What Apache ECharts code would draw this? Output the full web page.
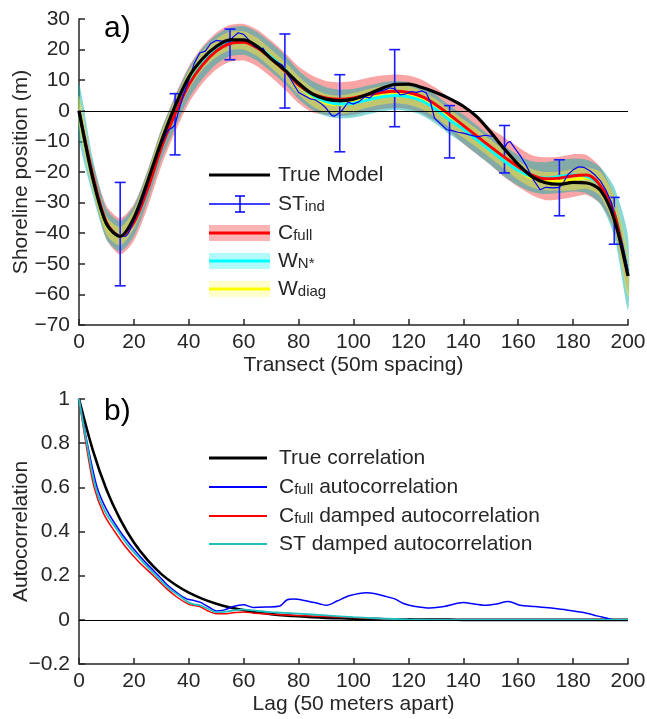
<!DOCTYPE html>
<html><head><meta charset="utf-8">
<script src="https://cdn.jsdelivr.net/npm/echarts@6/dist/echarts.min.js"></script>
<style>html,body{margin:0;padding:0;background:#fff}#c{width:647px;height:719px}</style>
</head><body><div id="c"></div>
<script>
// ---------- Panel a) data ----------
const transectX = [0,5,10,15,20,25,30,35,40,45,50,55,60,65,70,75,80,85,90,95,100,105,110,115,120,125,130,135,140,145,150,155,160,165,170,175,180,185,190,195,200];
const trueModel = [0,-22,-37,-41,-35,-23,-10,1.5,11,17,21,23.2,23.2,21,17,13.3,9,5.5,3.8,3.3,3.8,5.3,7.2,8.6,8.7,7.6,6,4,1.5,-2,-7,-12.5,-17.5,-21.5,-23.5,-24,-23.4,-23.6,-26,-35.5,-54];
const cFull = [0,-21,-36.5,-41,-36.5,-25.5,-12,-1,8.5,15,19.5,22,22.4,20.5,17,13,8.5,5.5,4.2,3.8,4.2,5.2,6,6.4,6,4.6,2,-1.3,-4.8,-8.3,-11.8,-15.2,-18.3,-21,-22.2,-22,-21.2,-21,-24.5,-33.5,-54];
const wNstar = [0,-21.5,-37,-41,-36,-24.5,-11,-0.5,9,15.5,20,22.5,23,21,17.5,13.5,8.5,5,3,2.2,2.5,3.5,4.5,5,4.6,3.2,0.5,-3,-6,-9.5,-13,-16.5,-19.5,-21.5,-22,-21.5,-21,-21.5,-24.5,-33,-53];
const wDiag = [0,-22,-37.5,-41,-35.5,-23.5,-10,0.5,10,16.5,20.5,22.8,23,20.8,17,13,8.3,4.5,2.5,2,2.8,4,5,5.5,5,3.5,0.8,-2.5,-5.8,-9,-12.5,-16,-19.5,-22,-23,-23,-22.5,-22,-24,-33,-54];
const cFullHalfWidth = [1.5,4,5.5,6,6,6,6,6,6,6,6,6,6,6,6,6,6,6,5.5,5.5,5.5,5.5,5.5,5.5,5.5,5.5,5.5,5.5,6,6,6,6.5,6.5,6.5,7,7,7,6.5,6,5.5,5];
const wNstarHalfWidth = [9,6,5,5,5,5,5,5,5,5,4.8,4.7,4.7,4.7,4.7,4.7,4.7,4.7,4.7,4.7,4.7,4.7,4.7,4.7,4.7,4.7,4.7,4.7,4.7,4.7,4.7,5,5,5,5.2,5.4,5.4,5.5,6,8,12];
const wDiagHalfWidth = [5,3.5,3,3,3,3,3,3,3,3,3,3,3,3,3,3,3,3,3,3,3,3,3,3,3,3,3,3,3,3,3,3,3,3,3,3.2,3.5,3.5,4,5,7];
const stX = [0,2,4,6,8,10,12,13,15,17,18,20,22,24,26,28,30,32,33,34,35,36,38,40,42,44,46,48,50,52,54,55,56,58,60,62,64,66,67,68,70,72,74,76,78,80,82,84,86,88,90,92,93,94,96,98,100,102,104,106,108,110,112,113,115,117,119,121,123,125,126.5,128,129.5,132,134,136,138,140,142,145,148,151,153,154.6,156,157,159,161,163,165.5,168,170,172.8,175,176.4,178,180,182,184,186,188,190,192,194,195,196,198,200];
const stInd = [0,-9,-18,-26,-32,-36.5,-39.5,-40.5,-41,-41,-40,-36,-32,-27,-21,-16,-11,-7,-6,-5.5,-4.5,-1,5,10,15.5,18.9,19.5,22,23,22.8,22.5,22.5,24,25.5,25,23,21,20,20.5,19,17,16,15,12,9,6,5,4,3.6,2.5,0.9,-1.5,-1.8,-1.2,0.3,2.8,2.2,3,4.5,4.2,6,6.5,7,7.5,7.2,5.2,5.5,6.3,6,6.5,5.8,3,-2.4,-4.5,-6.2,-6.5,-7,-7.3,-7.8,-8.5,-8,-8.4,-10,-12.7,-10.5,-10,-12.5,-15,-18,-22.5,-25.8,-25,-25.2,-25,-23.6,-21,-19.3,-18.3,-18.5,-19.5,-21,-23,-26,-30,-35,-38,-44,-52];
const errX = [15,35,55,75,95,115,135,155,175,195];
const errLow = [-57.2,-14.4,16.7,0.9,-13.4,-5.2,-15.4,-20.3,-34.3,-43.6];
const errHigh = [-23.4,5.6,26.7,25.1,11.8,20,1.7,-4.8,-16,-28.3];
const xTicksA = [0,20,40,60,80,100,120,140,160,180,200];
const yTicksA = [-70,-60,-50,-40,-30,-20,-10,0,10,20,30];

// ---------- Panel b) data ----------
const lagX = [0,5,10,15,20,25,30,35,40,45,50,55,60,65,70,75,80,85,90,95,100,105,110,115,120,125,130,135,140,145,150,155,160,165,170,175,180,185,190,195,200];
const trueCorr = [1,0.77,0.59,0.455,0.35,0.27,0.207,0.16,0.123,0.095,0.073,0.056,0.044,0.034,0.026,0.02,0.016,0.012,0.009,0.007,0.005,0.004,0.003,0.002,0.002,0.001,0.001,0.001,0,0,0,0,0,0,0,0,0,0,0,0,0];
const cFullAcX = [0,3,6.6,10,15,20,25,29,32,36,39.2,42,44.1,47,50.2,53,56.2,59.9,63.5,68,73.2,75.7,78.2,82,87.8,90.2,94,98.7,104.8,108,112,115,118.2,122,127.9,133,140,144,148.5,152,156.4,160.7,166,172.8,177.6,181.3,185,188.6,192,194.7,200];
const cFullAc = [1,0.8,0.6,0.5,0.4,0.32,0.25,0.2,0.16,0.12,0.095,0.087,0.08,0.06,0.04,0.045,0.06,0.068,0.056,0.058,0.063,0.09,0.094,0.088,0.072,0.066,0.085,0.11,0.123,0.118,0.105,0.095,0.074,0.062,0.054,0.06,0.078,0.072,0.066,0.072,0.083,0.066,0.06,0.053,0.045,0.038,0.03,0.018,0.008,0,0];
const cFullDampX = [0,2.5,5.5,9,13,17,22,27.1,32,36,40,42,44,47,50,53,56,60,64,70,80,90,100,110,120,200];
const cFullDamp = [1,0.8,0.6,0.48,0.4,0.33,0.26,0.2,0.14,0.1,0.07,0.065,0.06,0.04,0.028,0.028,0.032,0.036,0.03,0.025,0.02,0.015,0.01,0.005,0.001,0];
const stDampX = [0,2.8,6,9.5,14.3,18,23,28,33,37,40,42,44,47,50,53,56,60,65,70,80,90,100,110,120,130,200];
const stDamp = [1,0.8,0.6,0.49,0.4,0.335,0.265,0.2,0.14,0.105,0.078,0.07,0.066,0.05,0.035,0.036,0.042,0.046,0.04,0.035,0.028,0.02,0.012,0.006,0.002,0,0];

// ---------- chart ----------
const FONT = 'Liberation Sans, Arial, Helvetica, sans-serif';
const TXT = '#262626';
const pairs = (xs, ys) => xs.map((x, i) => [x, ys[i]]);
const fmtMinus = v => String(Math.round(v * 100) / 100).replace('-', '\u2212');

function axisCommon(margin, gap, name, gridIndex) {
  return {
    gridIndex: gridIndex, type: 'value', name: name, nameGap: gap, nameLocation: 'middle', nameMoveOverlap: false,
    axisLine: {show: true, onZero: false, lineStyle: {color: TXT, width: 1.5}},
    axisTick: {show: true, inside: true, length: 6, lineStyle: {color: TXT, width: 1.5}},
    splitLine: {show: false},
    axisLabel: {color: TXT, fontSize: 21, fontFamily: FONT, formatter: fmtMinus, margin: margin, hideOverlap: false},
    nameTextStyle: {color: TXT, fontSize: 21, fontFamily: FONT}
  };
}
function bandSeries(center, hw, color) {
  return {
    type: 'custom', xAxisIndex: 0, yAxisIndex: 0, silent: true,
    data: [[0, 0]],
    renderItem: function (params, api) {
      const pts = [];
      for (let i = 0; i < transectX.length; i++) pts.push(api.coord([transectX[i], center[i] + hw[i]]));
      for (let i = transectX.length - 1; i >= 0; i--) pts.push(api.coord([transectX[i], center[i] - hw[i]]));
      return {type: 'polygon', shape: {points: pts, smooth: 0.25}, style: {fill: color}};
    }
  };
}
function lineSeries(xi, xs, ys, color, width, smooth) {
  return {
    type: 'line', xAxisIndex: xi, yAxisIndex: xi, data: pairs(xs, ys), showSymbol: false, symbol: 'none',
    smooth: smooth, silent: true, lineStyle: {color: color, width: width}, animation: false
  };
}
function zeroLine(xi) {
  return {
    type: 'line', xAxisIndex: xi, yAxisIndex: xi, data: [], silent: true,
    markLine: {silent: true, symbol: 'none', label: {show: false}, animation: false,
      lineStyle: {color: '#000', width: 1, type: 'solid'}, data: [{yAxis: 0}]}
  };
}

const legendA = [];
const LX1 = 209, LX2 = 270, TX = 278;
const rowsA = [175, 204, 233, 261, 289];
legendA.push({type: 'line', shape: {x1: LX1, y1: rowsA[0], x2: LX2, y2: rowsA[0]}, style: {stroke: '#000', lineWidth: 3.2}});
legendA.push({type: 'line', shape: {x1: LX1, y1: rowsA[1], x2: LX2, y2: rowsA[1]}, style: {stroke: '#0000ff', lineWidth: 1.5}});
legendA.push({type: 'line', shape: {x1: 240, y1: rowsA[1] - 8, x2: 240, y2: rowsA[1] + 8}, style: {stroke: '#0000ff', lineWidth: 1.5}});
legendA.push({type: 'line', shape: {x1: 235, y1: rowsA[1] - 8, x2: 245, y2: rowsA[1] - 8}, style: {stroke: '#0000ff', lineWidth: 1.5}});
legendA.push({type: 'line', shape: {x1: 235, y1: rowsA[1] + 8, x2: 245, y2: rowsA[1] + 8}, style: {stroke: '#0000ff', lineWidth: 1.5}});
const bandLeg = [['#fbb3b3', '#ff0000'], ['#b0fafa', '#00ffff'], ['#ffffcc', '#ffff00']];
for (let k = 0; k < 3; k++) {
  const y = rowsA[k + 2];
  legendA.push({type: 'rect', shape: {x: LX1, y: y - 8, width: LX2 - LX1, height: 16}, style: {fill: bandLeg[k][0]}});
  legendA.push({type: 'line', shape: {x1: LX1, y1: y, x2: LX2, y2: y}, style: {stroke: bandLeg[k][1], lineWidth: 3}});
}
const richSub = {m: {fontSize: 21, fontFamily: FONT, color: TXT}, s: {fontSize: 15, fontFamily: FONT, color: TXT, verticalAlign: 'bottom'}};
const legTextsA = ['{m|True Model}', '{m|ST}{s|ind}', '{m|C}{s|full}', '{m|W}{s|N*}', '{m|W}{s|diag}'];
legTextsA.forEach((t, i) => legendA.push({type: 'text', x: TX, y: rowsA[i], style: {text: t, rich: richSub, verticalAlign: 'middle', align: 'left', fill: TXT}}));

const rowsB = [458, 487, 516, 544];
const legB = [['#000', 2.8, '{m|True correlation}'], ['#0000ff', 1.8, '{m|C}{s|full}{m| autocorrelation}'], ['#ff0000', 1.8, '{m|C}{s|full}{m| damped autocorrelation}'], ['#1fbfbf', 2.2, '{m|ST damped autocorrelation}']];
const legendB = [];
legB.forEach((l, i) => {
  legendB.push({type: 'line', shape: {x1: LX1, y1: rowsB[i], x2: 267, y2: rowsB[i]}, style: {stroke: l[0], lineWidth: l[1]}});
  legendB.push({type: 'text', x: 279, y: rowsB[i], style: {text: l[2], rich: richSub, verticalAlign: 'middle', align: 'left', fill: TXT}});
});

const chart = echarts.init(document.getElementById('c'), null, {renderer: 'canvas'});
chart.setOption({
  animation: false,
  backgroundColor: '#fff',
  textStyle: {fontFamily: FONT},
  grid: [
    {left: 79, top: 19, width: 549, height: 306, containLabel: false, outerBoundsMode: 'none'},
    {left: 79, top: 399, width: 549, height: 265, containLabel: false, outerBoundsMode: 'none'}
  ],
  xAxis: [
    Object.assign(axisCommon(7, 30, 'Transect (50m spacing)', 0), {min: xTicksA[0], max: xTicksA[xTicksA.length - 1], interval: 20}),
    Object.assign(axisCommon(7, 30, 'Lag (50 meters apart)', 1), {min: 0, max: 200, interval: 20})
  ],
  yAxis: [
    Object.assign(axisCommon(9, 47, 'Shoreline position (m)', 0), {min: yTicksA[0], max: yTicksA[yTicksA.length - 1], interval: 10}),
    Object.assign(axisCommon(9, 47, 'Autocorrelation', 1), {min: -0.2, max: 1, interval: 0.2})
  ],
  graphic: [
    {type: 'text', x: 104, y: 14, style: {text: 'a)', fontSize: 30, fontFamily: FONT, fill: '#000'}},
    {type: 'text', x: 104, y: 397, style: {text: 'b)', fontSize: 30, fontFamily: FONT, fill: '#000'}},
    {type: 'group', children: legendA},
    {type: 'group', children: legendB}
  ],
  series: [
    zeroLine(0),
    bandSeries(cFull, cFullHalfWidth, '#faa5a5'),
    bandSeries(wNstar, wNstarHalfWidth, 'rgba(14,175,171,0.5)'),
    bandSeries(wDiag, wDiagHalfWidth, 'rgba(245,222,60,0.55)'),
    lineSeries(0, transectX, wDiag, '#ffff00', 3, 0.3),
    lineSeries(0, transectX, wNstar, '#00ffff', 3, 0.3),
    lineSeries(0, transectX, cFull, '#ff0000', 3, 0.3),
    lineSeries(0, stX, stInd, '#0000ff', 1.2, false),
    {
      type: 'custom', xAxisIndex: 0, yAxisIndex: 0, silent: true,
      data: errX.map((x, i) => [x, errLow[i], errHigh[i]]),
      encode: {x: 0, y: [1, 2]},
      renderItem: function (params, api) {
        const x = api.value(0);
        const lo = api.coord([x, api.value(1)]);
        const hi = api.coord([x, api.value(2)]);
        const w = 5.5, st = {stroke: '#1a1aff', lineWidth: 1.6};
        return {type: 'group', children: [
          {type: 'line', shape: {x1: lo[0], y1: lo[1], x2: hi[0], y2: hi[1]}, style: st},
          {type: 'line', shape: {x1: lo[0] - w, y1: lo[1], x2: lo[0] + w, y2: lo[1]}, style: st},
          {type: 'line', shape: {x1: hi[0] - w, y1: hi[1], x2: hi[0] + w, y2: hi[1]}, style: st}
        ]};
      }
    },
    lineSeries(0, transectX, trueModel, '#000000', 3.2, 0.3),
    zeroLine(1),
    lineSeries(1, lagX, trueCorr, '#000000', 2.6, 0.3),
    lineSeries(1, cFullAcX, cFullAc, '#0000ff', 1.5, 0.3),
    lineSeries(1, cFullDampX, cFullDamp, '#ff0000', 1.5, 0.3),
    lineSeries(1, stDampX, stDamp, '#1fbfbf', 1.8, 0.3)
  ]
});
</script>
</body></html>
